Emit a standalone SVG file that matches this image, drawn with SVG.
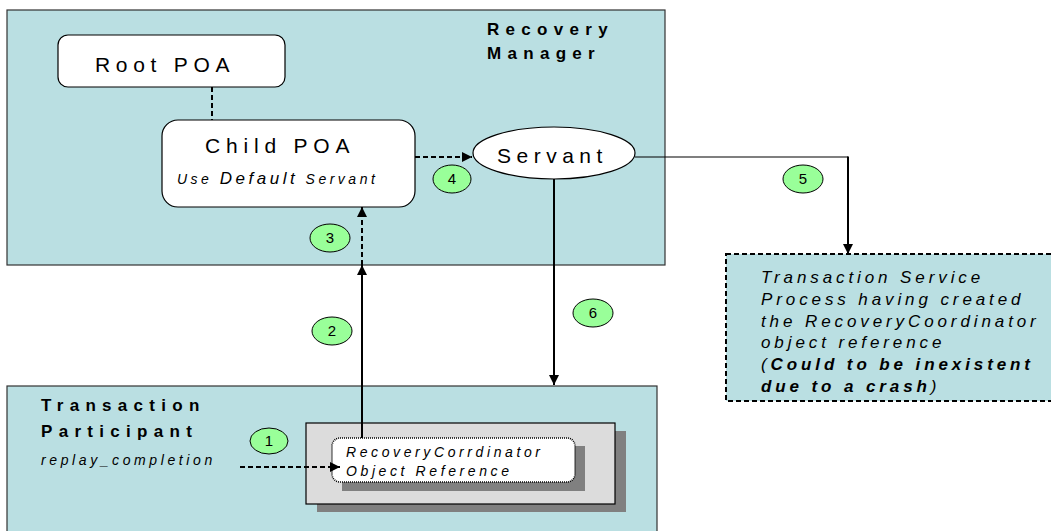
<svg xmlns="http://www.w3.org/2000/svg" width="1051" height="531" viewBox="0 0 1051 531">
<style>
.region{fill:#badfe2;stroke:#333;stroke-width:1.2}
.node{fill:#fff;stroke:#000;stroke-width:1.2}
.badge{fill:#99ff99;stroke:#000;stroke-width:1}
.bt{font-family:"Liberation Sans",Arial,sans-serif;font-size:15px;text-anchor:middle;fill:#000}
.big{font-family:"Liberation Sans",Arial,sans-serif;font-size:21px;fill:#000}
.title{font-family:"Liberation Sans",Arial,sans-serif;font-size:17px;font-weight:bold;letter-spacing:6.3px;fill:#000}
.it{font-family:"Liberation Sans",Arial,sans-serif;font-style:italic;fill:#000}
.solid{fill:none;stroke:#000;stroke-width:2}
.dash{fill:none;stroke:#000;stroke-width:2;stroke-dasharray:5,3}
</style>
<defs>
<marker id="ah" viewBox="0 0 10 10" refX="10" refY="5" markerWidth="10" markerHeight="10" markerUnits="userSpaceOnUse" orient="auto">
<path d="M0,0 L10,5 L0,10 z" fill="#000"/>
</marker>
</defs>
<rect width="1051" height="531" fill="#fff"/>

<g id="recovery-manager">
<rect class="region" x="7" y="10" width="658" height="255"/>
<text class="title" x="487" y="35">Recovery</text>
<text class="title" x="487" y="59">Manager</text>
</g>

<g id="transaction-participant">
<rect class="region" x="7" y="386" width="650" height="160"/>
<text class="title" x="41" y="411">Transaction</text>
<text class="title" x="41" y="437">Participant</text>
<text class="it" x="41" y="465" font-size="14" letter-spacing="3.6">replay_completion</text>
</g>

<g id="transaction-service">
<rect x="726" y="254" width="330" height="147" fill="#badfe2" stroke="#000" stroke-width="2" stroke-dasharray="5,3"/>
<g class="it" font-size="17" letter-spacing="3.9">
<text x="761" y="283">Transaction Service</text>
<text x="761" y="305">Process having created</text>
<text x="761" y="327">the RecoveryCoordinator</text>
<text x="761" y="348">object reference</text>
<text x="761" y="370">(<tspan font-weight="bold">Could to be inexistent</tspan></text>
<text x="761" y="392"><tspan font-weight="bold">due to a crash</tspan>)</text>
</g>
</g>

<g id="root-poa">
<rect class="node" x="58" y="35" width="227" height="52" rx="10"/>
<text class="big" x="95" y="72" font-size="22" letter-spacing="5.7">Root POA</text>
</g>

<g id="child-poa">
<rect class="node" x="162" y="120" width="253" height="87" rx="16"/>
<text class="big" x="205" y="153" font-size="21" letter-spacing="5.8">Child POA</text>
<text class="it" x="177" y="184" font-size="14" letter-spacing="3.5">Use <tspan font-size="17">Default</tspan> Servant</text>
</g>

<g id="servant">
<ellipse class="node" cx="554" cy="153" rx="81" ry="26"/>
<text class="big" x="497" y="163" font-size="22" letter-spacing="5.5">Servant</text>
</g>

<g id="rc-reference">
<rect x="317" y="431" width="309" height="81" fill="#808080"/>
<rect x="306" y="423" width="309" height="81" fill="#dcdcdc" stroke="#000" stroke-width="1.2"/>
<rect x="342" y="446" width="243" height="45" fill="#808080"/>
<rect x="332" y="438" width="243" height="44" rx="8" fill="#fff" stroke="#000" stroke-width="1.6" stroke-dasharray="1,1"/>
<g class="it" font-size="14" letter-spacing="3.6">
<text x="346" y="457">RecoveryCorrdinator</text>
<text x="346" y="476">Object Reference</text>
</g>
</g>

<g id="connectors">
<line class="dash" x1="212" y1="87" x2="212" y2="120"/>
<line class="dash" x1="415" y1="157" x2="472" y2="157" marker-end="url(#ah)"/>
<line class="dash" x1="240" y1="467" x2="340" y2="467" marker-end="url(#ah)"/>
<line class="solid" x1="362" y1="438" x2="362" y2="265" marker-end="url(#ah)"/>
<line class="dash" x1="362" y1="265" x2="362" y2="207" marker-end="url(#ah)"/>
<line class="solid" x1="554" y1="179" x2="554" y2="385" marker-end="url(#ah)"/>
<polyline fill="none" stroke="#000" stroke-width="1.2" points="635,157 848,157"/>
<line class="solid" x1="848" y1="156.5" x2="848" y2="254" marker-end="url(#ah)"/>
</g>

<g id="badges">
<ellipse class="badge" cx="269" cy="441" rx="19" ry="13"/>
<text class="bt" x="269" y="446">1</text>
<ellipse class="badge" cx="332" cy="331" rx="20" ry="14"/>
<text class="bt" x="332" y="336">2</text>
<ellipse class="badge" cx="330" cy="238" rx="20" ry="14"/>
<text class="bt" x="330" y="243">3</text>
<ellipse class="badge" cx="452" cy="179" rx="19" ry="14"/>
<text class="bt" x="452" y="184">4</text>
<ellipse class="badge" cx="803" cy="179" rx="20" ry="14"/>
<text class="bt" x="803" y="184">5</text>
<ellipse class="badge" cx="593" cy="313" rx="20" ry="14"/>
<text class="bt" x="593" y="318">6</text>
</g>
</svg>
